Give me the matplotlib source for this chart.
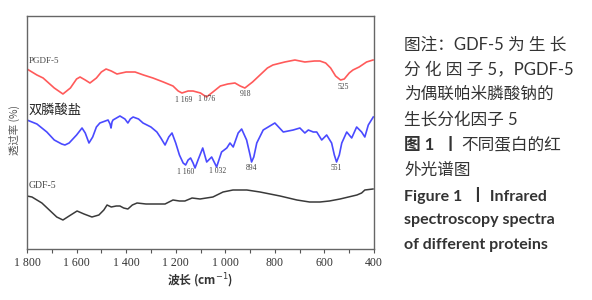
import matplotlib
matplotlib.use("Agg")
import matplotlib.pyplot as plt
from matplotlib.ticker import MultipleLocator, FixedLocator

# data (wavenumber cm-1, transmittance arbitrary units)
red_wn = [1800, 1760, 1735, 1690, 1655, 1625, 1600, 1586, 1565, 1546, 1520, 1500, 1481, 1460,
          1437, 1400, 1364, 1330, 1292, 1250, 1211, 1190, 1175, 1150, 1130, 1100, 1076, 1050,
          1020, 990, 961, 940, 921, 890, 860, 830, 808, 760, 719, 679, 640, 618, 595, 575,
          555, 535, 520, 500, 485, 460, 430, 404]
red_t = [180, 174, 171, 161, 155, 161, 170, 172, 169, 166, 171, 177, 180, 178,
         175, 177, 177, 174, 171, 167, 163, 158, 156, 158, 158, 156, 152, 157,
         163, 165, 166, 163, 161, 167, 174, 181, 184, 187, 189, 187, 188, 188, 186, 181,
         173, 169, 170, 176, 179, 182, 187, 189]

blue_wn = [1800, 1760, 1720, 1690, 1660, 1647, 1630, 1600, 1578, 1565, 1550, 1535, 1520, 1506,
           1473, 1465, 1461, 1457, 1453, 1425, 1405, 1393, 1383, 1372, 1350, 1332, 1300, 1276,
           1260, 1243, 1228, 1215, 1200, 1185, 1170, 1160, 1150, 1140, 1130, 1122, 1110, 1091,
           1075, 1055, 1035, 1015, 994, 981, 968, 948, 934, 914, 900, 894, 885, 873, 847, 800,
           766, 726, 699, 679, 665, 645, 631, 611, 591, 571, 560, 551, 540, 530, 510, 490,
           470, 450, 437, 423, 403]
blue_t = [129, 125, 117, 109, 105, 104, 106, 114, 121, 116, 106, 112, 122, 126,
          129, 125, 121, 127, 129, 133, 130, 126, 130, 132, 130, 126, 122, 117,
          111, 104, 112, 116, 106, 94, 86, 84, 89, 91, 86, 81, 89, 101,
          87, 92, 82, 97, 101, 106, 102, 116, 120, 109, 94, 87, 92, 106, 119, 126,
          117, 119, 121, 116, 119, 117, 117, 109, 114, 106, 94, 87, 94, 106, 117, 111,
          122, 117, 112, 124, 132]

black_wn = [1800, 1780, 1740, 1710, 1680, 1655, 1630, 1598, 1570, 1538, 1510, 1490, 1477, 1460,
            1440, 1425, 1410, 1393, 1375, 1356, 1320, 1292, 1243, 1211, 1185, 1163, 1134, 1102,
            1050, 1009, 969, 913, 860, 779, 711, 660, 618, 580, 537, 469, 450, 437, 404]
black_t = [53, 52, 46, 39, 32, 29, 33, 38, 35, 32, 34, 39, 44, 42,
           43, 43, 41, 40, 44, 46, 45, 45, 45, 49, 48, 48, 51, 50,
           52, 57, 59, 59, 57, 53, 49, 47, 47, 48, 50, 54, 56, 59, 60]

red_peaks = [1169, 1076, 918, 525]
red_peak_labels = ["1 169", "1 076", "918", "525"]
red_peak_t = [149, 150, 155, 162]
blue_peaks = [1160, 1032, 894, 551]
blue_peak_labels = ["1 160", "1 032", "894", "551"]
blue_peak_t = [77, 78, 81, 81]

x_ticks = [1800, 1600, 1400, 1200, 1000, 800, 600, 400]
x_tick_labels = ["1 800", "1 600", "1 400", "1 200", "1 000", "800", "600", "400"]

caption = ["图注：GDF-5 为 生 长", "分 化 因 子 5，PGDF-5", "为偶联帕米膦酸钠的", "生长分化因子 5"]
caption_fig = "不同蛋白的红"
caption_fig2 = "外光谱图"
caption_en = ["Figure 1  丨 Infrared", "spectroscopy spectra", "of different proteins"]

W, H = 592, 300
fig = plt.figure(figsize=(W / 100, H / 100), dpi=100)
ax = fig.add_axes([27 / W, 1 - 249 / H, (374 - 27) / W, (249 - 16) / H])

ax.plot(red_wn, red_t, color="#ff5a5a", lw=1.2)
ax.plot(blue_wn, blue_t, color="#4a4aff", lw=1.2)
ax.plot(black_wn, black_t, color="#3a3a3a", lw=1.1)

ax.set_xlim(1800, 400)
ax.set_ylim(0, 233)
ax.set_yticks([])
ax.xaxis.set_major_locator(FixedLocator(x_ticks))
ax.set_xticklabels(x_tick_labels, family="Liberation Serif", fontsize=8.5, color="#333333")
ax.xaxis.set_minor_locator(MultipleLocator(100))
ax.tick_params(axis="x", which="both", direction="out", length=3, width=0.8, color="#555555", pad=3)
for s in ax.spines.values():
    s.set_color("#666666")
    s.set_linewidth(1.0)

serif = "Liberation Serif"
for wn, lab, t in zip(red_peaks, red_peak_labels, red_peak_t):
    ax.text(wn, t, lab, ha="center", va="center", fontsize=5.5, family=serif, color="#444444")
for wn, lab, t in zip(blue_peaks, blue_peak_labels, blue_peak_t):
    ax.text(wn, t, lab, ha="center", va="center", fontsize=5.5, family=serif, color="#444444")

ax.text(1793, 188, "PGDF-5", ha="left", va="center", fontsize=6.5, family=serif, color="#444444")
ax.text(1793, 139, "双膦酸盐", ha="left", va="center", fontsize=9.5, family="Noto Sans CJK SC",
        color="#222222")
ax.text(1793, 64, "GDF-5", ha="left", va="center", fontsize=7, family=serif, color="#444444")

fig.text(200 / W, 1 - 281 / H, "波长 (cm$^{-1}$)", ha="center", va="center", fontsize=8.5,
         family=["Noto Sans CJK SC", "DejaVu Sans"], fontweight="bold", color="#333333")
fig.text(14 / W, 1 - 130 / H, "透过率 (%)", ha="center", va="center", rotation=90, fontsize=7.5,
         family=["Noto Sans CJK SC", "DejaVu Sans"], color="#555555")

# caption block on the right
cap_fam = ["Lato", "Noto Sans CJK SC", "DejaVu Sans"]
cap_col = "#333333"
x0 = 404 / W
ys = [45, 70, 94, 120, 145, 170, 195, 220, 245]
for i, line in enumerate(caption):
    fig.text(x0, 1 - ys[i] / H, line, ha="left", va="center", fontsize=12, family=cap_fam, color=cap_col)
t1 = fig.text(x0, 1 - ys[4] / H, "图 1  丨", ha="left", va="center", fontsize=12, family=cap_fam,
              color=cap_col, fontweight="bold")
fig.canvas.draw()
bb = t1.get_window_extent()
fig.text(bb.x1 / W + 2 / W, 1 - ys[4] / H, caption_fig, ha="left", va="center", fontsize=12,
         family=cap_fam, color=cap_col)
fig.text(x0, 1 - ys[5] / H, caption_fig2, ha="left", va="center", fontsize=12, family=cap_fam, color=cap_col)
for i, line in enumerate(caption_en):
    fig.text(x0, 1 - ys[6 + i] / H, line, ha="left", va="center", fontsize=11.5, family=cap_fam,
             color=cap_col, fontweight="bold")

fig.savefig("out.png", dpi=100)
